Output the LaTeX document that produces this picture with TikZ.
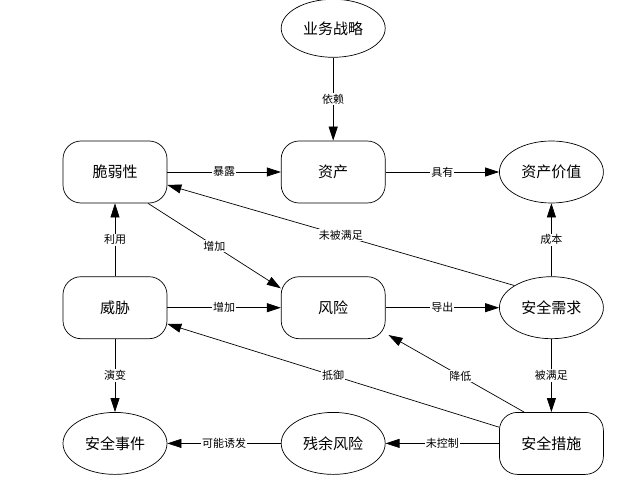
\documentclass[tikz,border=0pt]{standalone}
\usepackage{fontspec}
\setmainfont{Noto Sans CJK SC}
\usetikzlibrary{arrows.meta, positioning, shapes.geometric}
\tikzset{
  box/.style  = {draw, rounded corners=18pt, align=center,
                 font=\fontsize{15}{17}\selectfont,
                 minimum width=104pt, minimum height=62pt, inner sep=0pt},
  oval/.style = {draw, ellipse, align=center,
                 font=\fontsize{15}{17}\selectfont,
                 minimum width=104pt, minimum height=62pt, inner sep=0pt},
  lbl/.style  = {fill=white, inner sep=1pt, font=\fontsize{11}{12}\selectfont},
  fl/.style   = {-{Triangle[length=14pt, width=9pt]}, line width=0.7pt},
}
\begin{document}
\begin{tikzpicture}[node distance=73pt and 113.5pt, line width=0.7pt]
  \useasboundingbox (0,0) rectangle (636pt,-486pt);
  \node[box]  (vul)  at (115pt,-172pt) {脆弱性};
  \node[box,  right=of vul]   (asset) {资产};
  \node[oval, right=of asset] (value) {资产价值};
  \node[oval, above=83pt of asset, minimum height=58pt] (strat) {业务战略};
  \node[box,  below=of vul]   (threat) {威胁};
  \node[box,  right=of threat] (risk) {风险};
  \node[oval, right=of risk]  (req) {安全需求};
  \node[oval, below=of threat] (event) {安全事件};
  \node[oval, right=of event] (resid) {残余风险};
  \node[box,  right=of resid] (meas) {安全措施};
  % top row
  \draw[fl] (strat) -- node[lbl]{依赖} (asset);
  \draw[fl] (vul) -- node[lbl]{暴露} (asset);
  \draw[fl] (asset) -- node[lbl]{具有} (value);
  % middle
  \draw[fl] (threat) -- node[lbl]{利用} (vul);
  \draw[fl] ([xshift=33pt]vul.south) -- node[lbl]{增加} ([yshift=-12pt]risk.north west);
  \draw[fl] (req.north west) -- node[lbl]{未被满足} ([yshift=-13pt]vul.east);
  \draw[fl] (req) -- node[lbl]{成本} (value);
  \draw[fl] (threat) -- node[lbl]{增加} (risk);
  \draw[fl] (risk) -- node[lbl]{导出} (req);
  % bottom
  \draw[fl] (threat) -- node[lbl]{演变} (event);
  \draw[fl] (meas) -- node[lbl]{抵御} (threat);
  \draw[fl] ([xshift=25pt]meas.north west) -- node[lbl, pos=0.47]{降低} ([xshift=3pt,yshift=4pt]risk.south east);
  \draw[fl] (req) -- node[lbl]{被满足} (meas);
  \draw[fl] (resid) -- node[lbl]{可能诱发} (event);
  \draw[fl] (meas) -- node[lbl]{未控制} (resid);
\end{tikzpicture}
\end{document}
